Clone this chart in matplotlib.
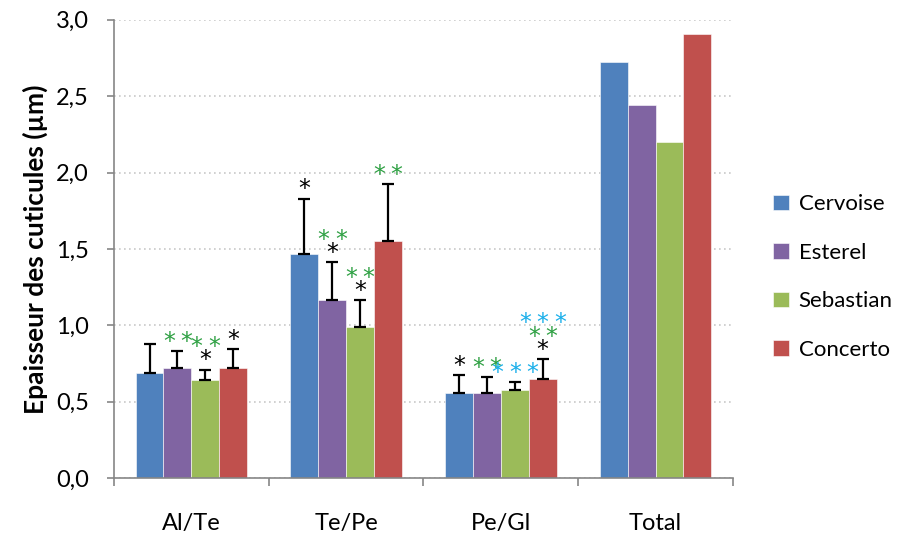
import numpy as np
import matplotlib
matplotlib.use("Agg")
import matplotlib.pyplot as plt
from matplotlib.ticker import FuncFormatter

plt.rcParams['font.family'] = ['Lato', 'DejaVu Sans']

# data
groups = ["Al/Te", "Te/Pe", "Pe/Gl", "Total"]
varieties = ["Cervoise", "Esterel", "Sebastian", "Concerto"]
colors = ["#4F81BD", "#8064A2", "#9BBB59", "#C0504D"]

cervoise = [0.69, 1.47, 0.557, 2.725]
esterel = [0.72, 1.165, 0.557, 2.44]
sebastian = [0.64, 0.99, 0.576, 2.20]
concerto = [0.72, 1.55, 0.648, 2.91]

err_cervoise = [0.19, 0.36, 0.118, 0]
err_esterel = [0.11, 0.25, 0.103, 0]
err_sebastian = [0.07, 0.175, 0.054, 0]
err_concerto = [0.125, 0.375, 0.132, 0]

# significance marks, bottom to top: (number of stars, colour key)
stars_cervoise = [[], [(1, "k")], [(1, "k")], []]
stars_esterel = [[(2, "g")], [(1, "k"), (2, "g")], [(2, "g")], []]
stars_sebastian = [[(1, "k"), (2, "g")], [(1, "k"), (2, "g")], [(3, "b")], []]
stars_concerto = [[(1, "k")], [(2, "g")], [(1, "k"), (2, "g"), (3, "b")], []]

values = [cervoise, esterel, sebastian, concerto]
errors = [err_cervoise, err_esterel, err_sebastian, err_concerto]
stars = [stars_cervoise, stars_esterel, stars_sebastian, stars_concerto]
star_colors = {"k": "black", "g": "#2EA043", "b": "#1AAFEA"}

fig = plt.figure(figsize=(9.01, 5.36), dpi=100)
ax = fig.add_axes([0.1265, 0.108, 0.687, 0.855])

x = np.arange(len(groups))
width = 0.18
for j, name in enumerate(varieties):
    pos = x + (j - 1.5) * width
    v = np.array(values[j])
    e = np.array(errors[j])
    ax.bar(pos, v, width, color=colors[j], edgecolor="white", linewidth=0.4,
           label=name, zorder=2)
    has_err = e > 0
    ax.errorbar(pos[has_err], v[has_err], yerr=[np.zeros(has_err.sum()), e[has_err]],
                fmt="none", ecolor="black", elinewidth=1.6, capsize=4.5,
                capthick=1.6, zorder=3)
    for i in range(len(groups)):
        top = v[i] + e[i]
        for k, (n, c) in enumerate(stars[j][i]):
            for s in range(n):
                ax.annotate("*", (pos[i], top),
                            xytext=(12.5 * (s - (n - 1) / 2), -2 + 9.5 * k),
                            textcoords="offset points", ha="center", va="bottom",
                            fontsize=17, color=star_colors[c],
                            family=["DejaVu Sans"], zorder=4)

ax.set_xlim(-0.5, 3.5)
ax.set_ylim(0, 3.0)
ax.set_yticks(np.arange(0, 3.01, 0.5))
ax.yaxis.set_major_formatter(FuncFormatter(lambda v, p: f"{v:.1f}".replace(".", ",")))
ax.grid(axis="y", color="#C8C8C8", linestyle=(0, (1, 2)), linewidth=1.2, zorder=0)
ax.set_axisbelow(True)

ax.set_xticks(x)
ax.set_xticklabels(groups)
ax.set_xticks(np.arange(-0.5, 3.6, 1), minor=True)
ax.tick_params(axis="x", which="major", length=0, pad=25, labelsize=17)
ax.tick_params(axis="x", which="minor", length=6, color="#868686", width=1.2)
ax.tick_params(axis="y", length=5, color="#868686", width=1.2, pad=13, labelsize=17)

for s in ["top", "right"]:
    ax.spines[s].set_visible(False)
for s in ["left", "bottom"]:
    ax.spines[s].set_color("#868686")
    ax.spines[s].set_linewidth(1.2)

ax.set_ylabel("Epaisseur des cuticules (µm)", fontsize=19, fontweight="bold", labelpad=6)

fig.legend(loc="center left", bbox_to_anchor=(0.836, 0.483), frameon=False,
           fontsize=16, handlelength=0.7, handleheight=0.7, handletextpad=0.45,
           labelspacing=1.28)

fig.savefig("out.png", dpi=100)
